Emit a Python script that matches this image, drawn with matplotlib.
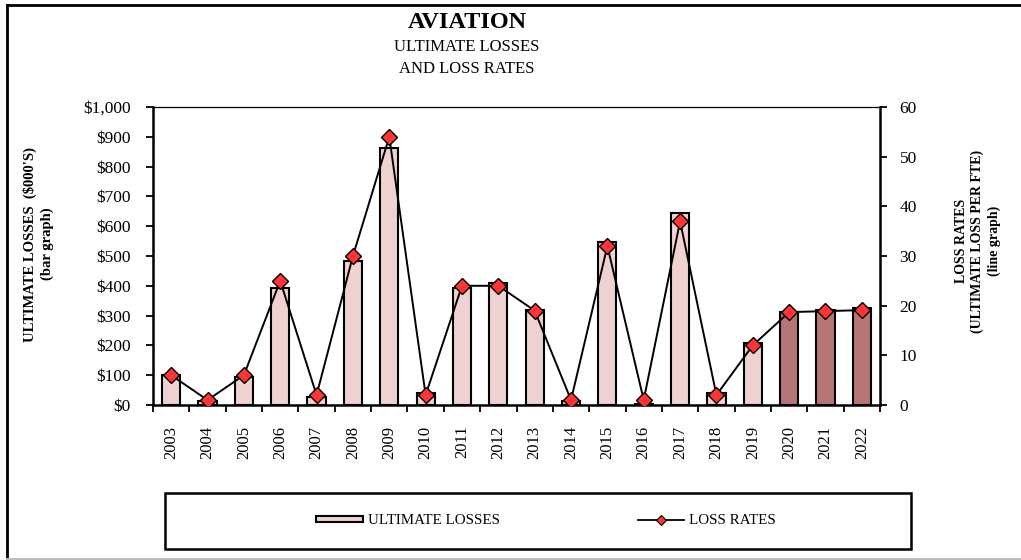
import numpy as np
import matplotlib.pyplot as plt
from matplotlib.patches import Rectangle
from matplotlib.lines import Line2D
from matplotlib.ticker import FuncFormatter, FixedLocator

plt.rcParams["font.family"] = ["Liberation Serif", "DejaVu Serif"]

years = ["2003", "2004", "2005", "2006", "2007", "2008", "2009", "2010", "2011", "2012",
         "2013", "2014", "2015", "2016", "2017", "2018", "2019", "2020", "2021", "2022"]
# ultimate losses in $000's
losses = [100, 12, 94, 393, 27, 484, 862, 39, 392, 410,
          319, 12, 546, 4, 643, 39, 209, 313, 319, 324]
# loss per FTE
loss_rates = [6.0, 1.0, 6.0, 25.0, 2.0, 30.0, 54.0, 2.0, 24.0, 24.0,
              19.0, 1.0, 32.0, 1.0, 37.0, 2.0, 12.0, 18.7, 18.9, 19.1]
# years still developing, shown darker
developing = ["2020", "2021", "2022"]

W, H = 1021, 560
fig = plt.figure(figsize=(W / 100, H / 100), dpi=100)

def fx(px):
    return px / W

def fy(py):
    return 1 - py / H

ax = fig.add_axes([fx(153), fy(405), fx(880) - fx(153), fy(107) - fy(405)])
x = np.arange(len(years))
light = "#EFD1D1"
dark = "#B87575"
colors = [dark if y in developing else light for y in years]
ax.bar(x, losses, width=0.5, color=colors, edgecolor="black", linewidth=1.5, zorder=2)

ax.set_xlim(-0.5, len(years) - 0.5)
ax.set_ylim(0, 1000)
ax.yaxis.set_major_locator(FixedLocator(np.arange(0, 1001, 100)))
ax.yaxis.set_major_formatter(FuncFormatter(lambda v, p: "${:,.0f}".format(v)))
ax.set_xticks(x)
ax.set_xticklabels(years, rotation=90, fontsize=12)
ax.set_xticks(np.arange(-0.5, len(years), 1), minor=True)
ax.tick_params(axis="x", which="major", length=0, pad=15)
ax.tick_params(axis="x", which="minor", length=5, width=1.3, direction="out")
ax.tick_params(axis="y", length=5, width=1.3, direction="out", labelsize=12.5, pad=11)
for s in ["left", "bottom"]:
    ax.spines[s].set_linewidth(1.8)
ax.spines["top"].set_linewidth(0.9)
ax.spines["right"].set_visible(False)

ax2 = ax.twinx()
ax2.plot(x, loss_rates, color="black", linewidth=1.4, marker="D", markersize=8,
         markerfacecolor="#FF3535", markeredgecolor="black", markeredgewidth=1.0, zorder=3)
ax2.set_ylim(0, 60)
ax2.set_yticks(np.arange(0, 61, 10))
ax2.tick_params(axis="y", length=5, width=1.3, direction="out", labelsize=12.5, pad=9)
ax2.spines["right"].set_linewidth(1.8)
for s in ["left", "bottom", "top"]:
    ax2.spines[s].set_visible(False)

# titles
fig.text(fx(467), fy(22), "AVIATION", ha="center", va="center", fontsize=17.5, fontweight="bold")
fig.text(fx(467), fy(47), "ULTIMATE LOSSES", ha="center", va="center", fontsize=12)
fig.text(fx(467), fy(69), "AND LOSS RATES", ha="center", va="center", fontsize=12)

# axis titles
fig.text(fx(30), fy(244), "ULTIMATE LOSSES  ($000'S)", rotation=90, ha="center", va="center",
         fontsize=10.5, fontweight="bold")
fig.text(fx(47), fy(244), "(bar graph)", rotation=90, ha="center", va="center",
         fontsize=10.5, fontweight="bold")
fig.text(fx(961), fy(241), "LOSS RATES", rotation=90, ha="center", va="center",
         fontsize=10, fontweight="bold")
fig.text(fx(977), fy(241), "(ULTIMATE LOSS PER FTE)", rotation=90, ha="center", va="center",
         fontsize=10, fontweight="bold")
fig.text(fx(994), fy(241), "(line graph)", rotation=90, ha="center", va="center",
         fontsize=10, fontweight="bold")

# legend box
fig.patches.append(Rectangle((fx(165), fy(549)), fx(911) - fx(165), fy(493) - fy(549),
                             transform=fig.transFigure, fill=False, edgecolor="black",
                             linewidth=1.8))
handles = [Rectangle((0, 0), 1, 1, facecolor=light, edgecolor="black", linewidth=1.5),
           Line2D([], [], color="black", linewidth=1.3, marker="D", markersize=5,
                  markerfacecolor="#FF3535", markeredgecolor="black", markeredgewidth=0.8)]
fig.legend(handles, ["ULTIMATE LOSSES", "LOSS RATES"], loc="center",
           bbox_to_anchor=(fx(546), fy(521)), ncol=2, frameon=False, fontsize=10.8,
           handlelength=3.1, handleheight=0.3, handletextpad=0.33, columnspacing=9.2)

# outer border
fig.add_artist(Line2D([fx(7), fx(7)], [fy(5), fy(559)], transform=fig.transFigure,
                      color="black", linewidth=2))
fig.add_artist(Line2D([fx(7), fx(1020)], [fy(5), fy(5)], transform=fig.transFigure,
                      color="black", linewidth=2))
fig.add_artist(Line2D([fx(7), fx(1021)], [fy(559), fy(559)], transform=fig.transFigure,
                      color="#BBBBBB", linewidth=1.5))

fig.savefig("out.png", dpi=100)
plt.close(fig)
